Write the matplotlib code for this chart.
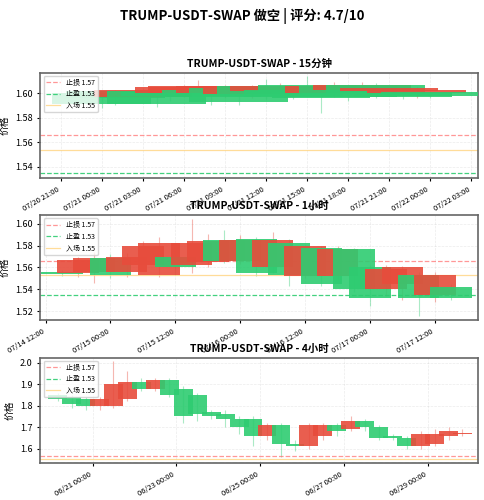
import matplotlib
matplotlib.use('Agg')
import matplotlib.pyplot as plt
import matplotlib.dates as mdates
import pandas as pd

plt.rcParams['font.family'] = ['Noto Sans CJK SC', 'DejaVu Sans']
plt.rcParams['axes.unicode_minus'] = False

stop_loss = 1.566
take_profit = 1.535
entry = 1.5535

# 15分钟 (每小时取样)
t15 = pd.date_range('2025-07-21 00:00', '2025-07-22 00:00', freq='1h')
o15 = [1.600, 1.602, 1.600, 1.597, 1.602, 1.601, 1.600, 1.600, 1.603, 1.600, 1.604, 1.599, 1.606,
       1.602, 1.603, 1.607, 1.601, 1.600, 1.606, 1.603, 1.607, 1.602, 1.601, 1.600, 1.601]
c15 = [1.591, 1.596, 1.599, 1.603, 1.591, 1.598, 1.605, 1.606, 1.597, 1.606, 1.593, 1.606, 1.598,
       1.606, 1.597, 1.602, 1.596, 1.606, 1.597, 1.607, 1.599, 1.604, 1.597, 1.603, 1.598]
h15 = [1.601, 1.603, 1.602, 1.604, 1.603, 1.603, 1.607, 1.611, 1.605, 1.607, 1.605, 1.607, 1.612,
       1.608, 1.606, 1.614, 1.604, 1.609, 1.607, 1.609, 1.608, 1.606, 1.604, 1.605, 1.602]
l15 = [1.588, 1.590, 1.595, 1.595, 1.589, 1.594, 1.597, 1.600, 1.590, 1.596, 1.590, 1.596, 1.595,
       1.598, 1.595, 1.598, 1.584, 1.597, 1.594, 1.600, 1.596, 1.599, 1.595, 1.596, 1.596]

# 1小时 (每3小时取样)
t1h = pd.date_range('2025-07-14 15:00', '2025-07-17 15:00', freq='3h')
o1h = [1.556, 1.555, 1.556, 1.569, 1.556, 1.562, 1.553, 1.570, 1.562, 1.565, 1.585, 1.566, 1.586,
       1.560, 1.582, 1.552, 1.578, 1.552, 1.577, 1.560, 1.540, 1.545, 1.553, 1.535, 1.542]
c1h = [1.554, 1.567, 1.569, 1.553, 1.570, 1.580, 1.582, 1.560, 1.582, 1.584, 1.566, 1.585, 1.555,
       1.585, 1.553, 1.580, 1.545, 1.577, 1.540, 1.532, 1.559, 1.560, 1.532, 1.553, 1.532]
h1h = [1.558, 1.570, 1.574, 1.572, 1.573, 1.584, 1.588, 1.575, 1.604, 1.591, 1.594, 1.590, 1.588,
       1.592, 1.586, 1.581, 1.580, 1.580, 1.578, 1.562, 1.562, 1.561, 1.556, 1.556, 1.545]
l1h = [1.552, 1.551, 1.546, 1.550, 1.551, 1.557, 1.551, 1.553, 1.555, 1.560, 1.564, 1.563, 1.552,
       1.555, 1.543, 1.550, 1.543, 1.549, 1.538, 1.525, 1.534, 1.530, 1.516, 1.528, 1.530]

# 4小时 (每8小时取样)
t4h = pd.date_range('2025-06-20 04:00', '2025-06-29 20:00', freq='8h')
o4h = [1.85, 1.84, 1.83, 1.80, 1.80, 1.83, 1.91, 1.88, 1.92, 1.88, 1.85, 1.77, 1.76, 1.74, 1.74,
       1.66, 1.71, 1.62, 1.61, 1.66, 1.71, 1.69, 1.73, 1.70, 1.66, 1.65, 1.61, 1.62, 1.66, 1.67]
c4h = [1.83, 1.81, 1.80, 1.83, 1.90, 1.91, 1.88, 1.92, 1.85, 1.75, 1.76, 1.75, 1.74, 1.70, 1.66,
       1.71, 1.62, 1.61, 1.71, 1.71, 1.68, 1.73, 1.70, 1.65, 1.65, 1.61, 1.67, 1.67, 1.68, 1.675]
h4h = [1.86, 1.85, 1.84, 1.84, 2.01, 1.96, 1.93, 1.93, 1.93, 1.89, 1.86, 1.78, 1.78, 1.75, 1.75,
       1.72, 1.72, 1.64, 1.72, 1.72, 1.72, 1.75, 1.74, 1.71, 1.67, 1.66, 1.68, 1.69, 1.70, 1.69]
l4h = [1.82, 1.79, 1.78, 1.78, 1.79, 1.82, 1.87, 1.87, 1.84, 1.72, 1.73, 1.74, 1.70, 1.67, 1.61,
       1.64, 1.56, 1.59, 1.60, 1.64, 1.66, 1.68, 1.68, 1.64, 1.64, 1.60, 1.60, 1.61, 1.64, 1.66]

panels = [
    ('TRUMP-USDT-SWAP - 15分钟', t15, o15, c15, h15, l15, 0.3,
     ('2025-07-20 19:30', '2025-07-22 03:30'), (1.531, 1.617), mdates.HourLocator(byhour=range(0, 24, 3))),
    ('TRUMP-USDT-SWAP - 1小时', t1h, o1h, c1h, h1h, l1h, 0.32,
     ('2025-07-14 11:00', '2025-07-17 20:00'), (1.512, 1.608), mdates.HourLocator(byhour=[0, 12])),
    ('TRUMP-USDT-SWAP - 4小时', t4h, o4h, c4h, h4h, l4h, 0.45,
     ('2025-06-19 18:00', '2025-06-30 05:00'), (1.535, 2.025), mdates.DayLocator(interval=2)),
]

fig = plt.figure(figsize=(4.84, 5.0), dpi=100)
fig.suptitle('TRUMP-USDT-SWAP 做空 | 评分: 4.7/10', fontsize=9.5, fontweight='bold', y=0.985)
tops = [0.855, 0.57, 0.285]
for (title, t, o, c, h, l, w, xl, yl, loc), top in zip(panels, tops):
    ax = fig.add_axes([0.083, top - 0.21, 0.905, 0.21])
    x = mdates.date2num(t)
    for xi, oi, ci, hi, li in zip(x, o, c, h, l):
        col = '#e74c3c' if ci >= oi else '#2ecc71'
        ax.vlines(xi, li, hi, color=col, linewidth=0.8, alpha=0.4, zorder=2)
        ax.bar(xi, abs(ci - oi), bottom=min(oi, ci), width=w, color=col, alpha=0.9, zorder=3)
    ax.axhline(stop_loss, color='#ff6b6b', linestyle='--', linewidth=0.9, alpha=0.7, label='止损 1.57')
    ax.axhline(take_profit, color='#2ecc71', linestyle='--', linewidth=0.9, alpha=0.9, label='止盈 1.53')
    ax.axhline(entry, color='#ffd480', linestyle='-', linewidth=0.9, alpha=0.8, label='入场 1.55')
    ax.set_xlim(mdates.datestr2num(xl[0]), mdates.datestr2num(xl[1]))
    ax.set_ylim(*yl)
    ax.xaxis.set_major_locator(loc)
    ax.xaxis.set_major_formatter(mdates.DateFormatter('%m/%d %H:%M'))
    plt.setp(ax.get_xticklabels(), rotation=30, ha='right', fontsize=5.5)
    ax.tick_params(axis='y', labelsize=6.5, length=2)
    ax.tick_params(axis='x', length=2)
    ax.set_ylabel('价格', fontsize=7)
    ax.set_title(title, fontsize=7.5, fontweight='bold', pad=4)
    ax.grid(True, alpha=0.25, linestyle='--', linewidth=0.5)
    ax.legend(loc='upper left', fontsize=5, framealpha=0.8)
    for s in ax.spines.values():
        s.set_color('#666666')
        s.set_linewidth(1.2)

fig.savefig('out.png', dpi=100)
